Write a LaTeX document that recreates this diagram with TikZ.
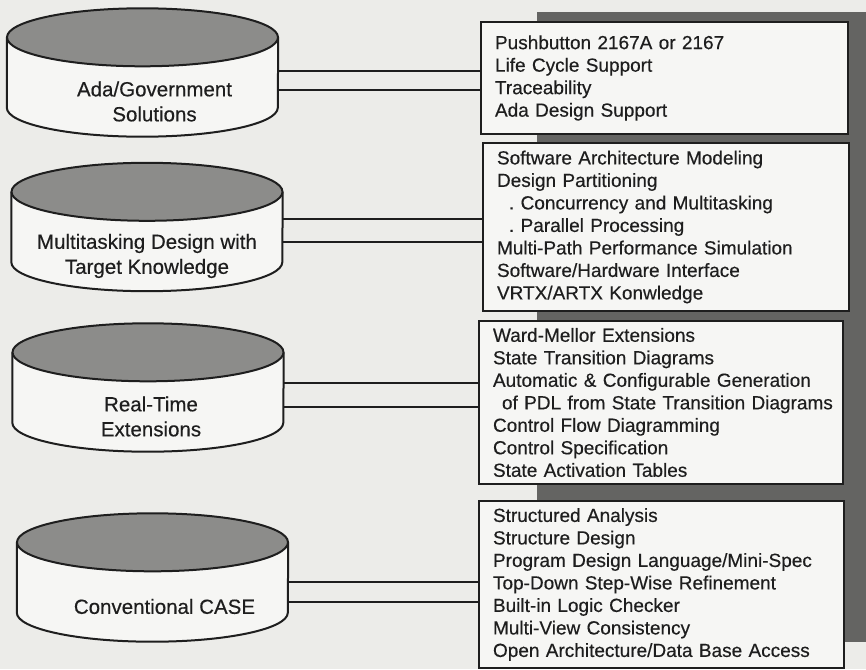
\documentclass[tikz,border=0pt]{standalone}
\usepackage{fontspec}
\setmainfont{Liberation Sans}[FakeBold=0.4]
\usepackage{xcolor}
\usetikzlibrary{positioning}
\definecolor{paper}{RGB}{236,236,233}
\definecolor{ink}{RGB}{30,30,30}
\definecolor{inktext}{RGB}{30,30,30}
\definecolor{lidgray}{RGB}{140,140,138}
\definecolor{shadowgray}{RGB}{100,100,98}
\definecolor{boxwhite}{RGB}{246,246,244}
\tikzstyle{cylbody}=[rectangle, inner sep=0pt, minimum width=271pt, minimum height=70pt]
\tikzstyle{cylline}=[draw=ink, line width=2pt, fill=boxwhite]
\tikzstyle{cyltext}=[font=\fontsize{20.5}{25}\selectfont, text=inktext, align=center]
\tikzstyle{featbox}=[rectangle, draw=ink, line width=2pt, fill=boxwhite,
  font=\fontsize{19}{22.5}\selectfont, text=inktext, align=left,
  anchor=north west, inner xsep=14pt, inner ysep=0pt]
\tikzstyle{link}=[draw=ink, line width=2pt]

\begin{document}
\begin{tikzpicture}[x=1pt, y=-1pt]
    \useasboundingbox[fill=paper] (0,0) rectangle (866,669);
    % shadow behind the feature boxes
    \fill[shadowgray] (537,12) rectangle (866,642);

    % feature boxes
    \node[featbox, text width=339pt, minimum height=112pt] (adabox) at (480,21)
      {Pushbutton 2167A or 2167\\Life Cycle Support\\Traceability\\Ada Design Support};
    \node[featbox, text width=338pt, minimum height=168pt] (multibox) at (482,142)
      {Software Architecture Modeling\\Design Partitioning\\
       \hspace*{12pt}.\ Concurrency and Multitasking\\
       \hspace*{12pt}.\ Parallel Processing\\
       Multi-Path Performance Simulation\\Software/Hardware Interface\\VRTX/ARTX Konwledge};
    \node[featbox, text width=336pt, minimum height=163pt] (rtbox) at (478,320)
      {Ward-Mellor Extensions\\State Transition Diagrams\\
       \mbox{Automatic \& Configurable Generation}\\
       \mbox{\hspace*{9pt}of PDL from State Transition Diagrams}\\
       Control Flow Diagramming\\Control Specification\\State Activation Tables};
    \node[featbox, text width=337pt, minimum height=167pt] (convbox) at (478,500)
      {Structured Analysis\\Structure Design\\Program Design Language/Mini-Spec\\
       Top-Down Step-Wise Refinement\\Built-in Logic Checker\\
       Multi-View Consistency\\Open Architecture/Data Base Access};

    % cylinders
    \node[cylbody] (ada) at (142.5,72.5) {};
    \node[cylbody] (multi) at (147,227) {};
    \node[cylbody] (realtime) at (148,387.5) {};
    \node[cylbody] (conv) at (152.5,577.5) {};
    \foreach \c in {ada, multi, realtime, conv} {
      \draw[cylline] (\c.north west) -- (\c.south west)
        arc[start angle=180, end angle=360, x radius=135.5pt, y radius=29pt]
        -- (\c.north east);
      \draw[cylline, fill=lidgray] (\c.north) ellipse [x radius=135.5pt, y radius=29pt];
    }
    \node[cyltext] (ada-lbl) at ([xshift=12pt, yshift=-29pt]ada.center) {Ada/Government\\Solutions};
    \node[cyltext] (multi-lbl) at ([yshift=-29pt]multi.center) {Multitasking Design with\\Target Knowledge};
    \node[cyltext] (realtime-lbl) at ([xshift=3pt, yshift=-29pt]realtime.center) {Real-Time\\Extensions};
    \node[cyltext] (conv-lbl) at ([xshift=12pt, yshift=-29pt]conv.center) {Conventional CASE};

    % double connectors
    \draw[link] ([yshift=1.5pt]ada.east) -- ([yshift=1.5pt]ada.east -| adabox.west);
    \draw[link] ([yshift=-17.5pt]ada.east) -- ([yshift=-17.5pt]ada.east -| adabox.west);
    \draw[link] ([yshift=8pt]multi.east) -- ([yshift=8pt]multi.east -| multibox.west);
    \draw[link] ([yshift=-15pt]multi.east) -- ([yshift=-15pt]multi.east -| multibox.west);
    \draw[link] ([yshift=4.5pt]realtime.east) -- ([yshift=4.5pt]realtime.east -| rtbox.west);
    \draw[link] ([yshift=-19.5pt]realtime.east) -- ([yshift=-19.5pt]realtime.east -| rtbox.west);
    \draw[link] ([yshift=-4.5pt]conv.east) -- ([yshift=-4.5pt]conv.east -| convbox.west);
    \draw[link] ([yshift=-24.5pt]conv.east) -- ([yshift=-24.5pt]conv.east -| convbox.west);
  \end{tikzpicture}
\end{document}
